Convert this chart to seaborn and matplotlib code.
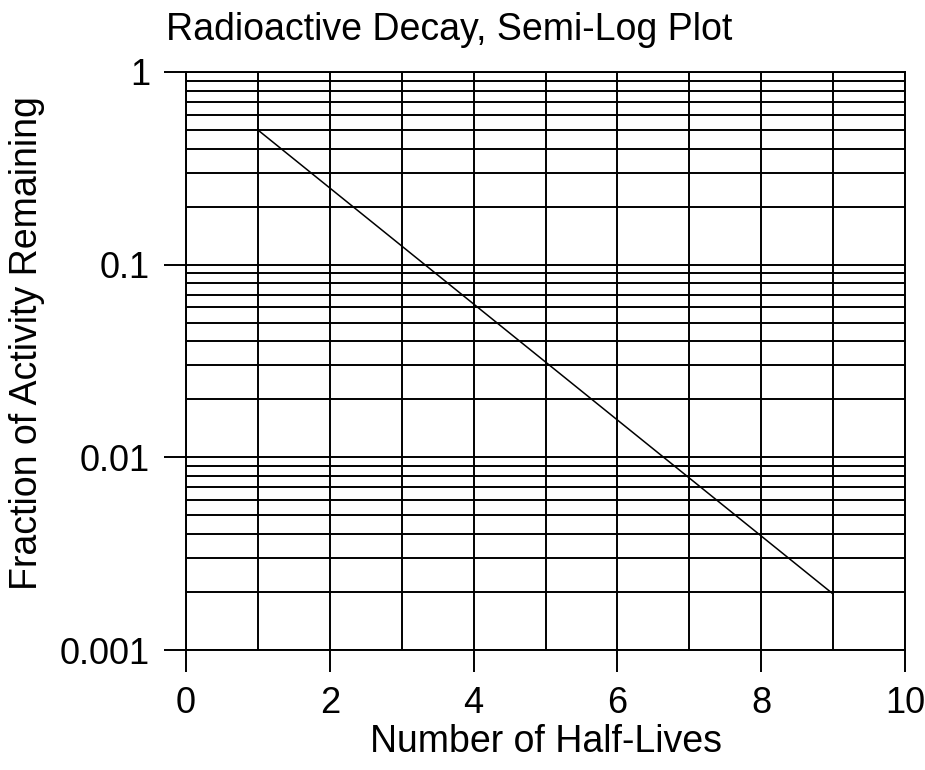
import numpy as np
import pandas as pd
import seaborn as sns
import matplotlib
matplotlib.use("Agg")
import matplotlib.pyplot as plt
from matplotlib.ticker import MultipleLocator, LogLocator, NullFormatter

# data
half_lives = [1, 2, 3, 4, 5, 6, 7, 8, 9]
fraction_left = [0.5, 0.25, 0.125, 0.0625, 0.03125, 0.015625,
                 0.0078125, 0.00390625, 0.001953125]
x_ticks = [0, 2, 4, 6, 8, 10]
y_ticks = [0.001, 0.01, 0.1, 1]
y_tick_labels = ["0.001", "0.01", "0.1", "1"]

df = pd.DataFrame({"n": half_lives, "frac": fraction_left})

sns.set_style("white")
plt.rcParams["font.family"] = ["Liberation Sans", "DejaVu Sans"]
plt.rcParams["text.color"] = "black"
plt.rcParams["axes.labelcolor"] = "black"

fig = plt.figure(figsize=(9.25, 7.7), dpi=100)
ax = fig.add_axes([0.2011, 0.1558, 0.7773, 0.7507])

sns.lineplot(data=df, x="n", y="frac", color="black", linewidth=1.1, ax=ax)
ax.set_yscale("log")
ax.set_xlim(0, 10)
ax.set_ylim(0.001, 1)

ax.set_xticks(x_ticks)
ax.xaxis.set_minor_locator(MultipleLocator(1))
ax.set_yticks(y_ticks)
ax.set_yticklabels(y_tick_labels)
ax.yaxis.set_minor_locator(LogLocator(base=10, subs=np.arange(2, 10)))
ax.yaxis.set_minor_formatter(NullFormatter())

ax.grid(True, which="both", color="black", linewidth=1.4)
ax.tick_params(which="major", direction="out", length=16, width=1.4,
               labelsize=26, pad=10, color="black", labelcolor="black",
               left=True, bottom=True)
ax.tick_params(which="minor", length=0)
for s in ax.spines.values():
    s.set_visible(True)
    s.set_color("black")
    s.set_linewidth(1.4)

ax.set_xlabel("Number of Half-Lives", fontsize=27, labelpad=2)
ax.set_ylabel("Fraction of Activity Remaining", fontsize=27)
ax.yaxis.set_label_coords(-0.196, 0.531)
fig.text(0.18, 0.948, "Radioactive Decay, Semi-Log Plot", fontsize=27,
         ha="left", va="baseline")

fig.savefig("out.png", dpi=100)
